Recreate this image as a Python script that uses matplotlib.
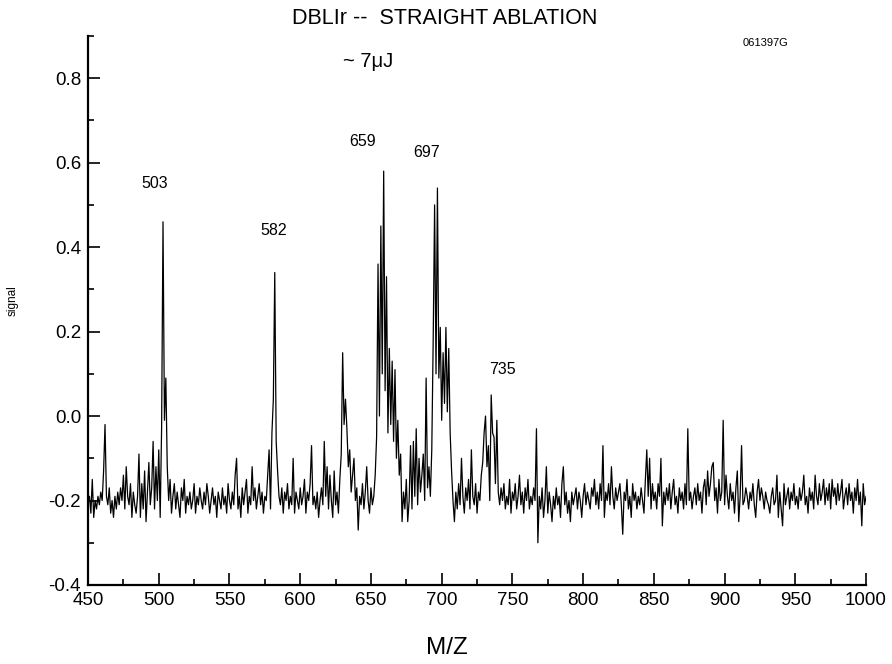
import numpy as np
import matplotlib
matplotlib.use("Agg")
import matplotlib.pyplot as plt
from matplotlib.ticker import MultipleLocator

plt.rcParams['font.family'] = ['Liberation Sans', 'DejaVu Sans']

mz_start = 450
mz_step = 1

sig_450 = [-0.20, -0.19, -0.23, -0.15, -0.24, -0.20, -0.22, -0.19, -0.21, -0.18,
           -0.20, -0.13, -0.02, -0.19, -0.21, -0.17, -0.23, -0.20, -0.24, -0.19,
           -0.22, -0.18, -0.21, -0.17, -0.20, -0.14, -0.22, -0.12, -0.19, -0.21,
           -0.16, -0.24, -0.18, -0.21, -0.23, -0.19, -0.09, -0.24, -0.16, -0.22,
           -0.13, -0.25, -0.18, -0.11, -0.21, -0.17, -0.06, -0.22, -0.12, -0.20]
sig_500 = [-0.08, -0.24, -0.03, 0.46, -0.01, 0.09, -0.12, -0.20, -0.15, -0.23,
           -0.19, -0.16, -0.22, -0.18, -0.21, -0.24, -0.17, -0.20, -0.15, -0.23,
           -0.19, -0.21, -0.18, -0.22, -0.20, -0.16, -0.23, -0.19, -0.21, -0.17,
           -0.20, -0.22, -0.18, -0.21, -0.16, -0.19, -0.23, -0.20, -0.17, -0.21,
           -0.19, -0.24, -0.18, -0.20, -0.22, -0.17, -0.21, -0.19, -0.23, -0.16]
sig_550 = [-0.20, -0.22, -0.18, -0.21, -0.14, -0.10, -0.22, -0.19, -0.24, -0.17,
           -0.21, -0.18, -0.15, -0.23, -0.19, -0.21, -0.12, -0.20, -0.17, -0.22,
           -0.19, -0.16, -0.21, -0.18, -0.23, -0.19, -0.20, -0.14, -0.08, -0.22,
           -0.04, 0.04, 0.34, -0.06, -0.13, -0.19, -0.21, -0.17, -0.23, -0.18,
           -0.20, -0.16, -0.22, -0.19, -0.21, -0.10, -0.23, -0.18, -0.20, -0.22]
sig_600 = [-0.17, -0.21, -0.19, -0.15, -0.23, -0.18, -0.20, -0.16, -0.07, -0.21,
           -0.19, -0.22, -0.18, -0.24, -0.20, -0.17, -0.21, -0.06, -0.19, -0.12,
           -0.22, -0.14, -0.20, -0.24, -0.13, -0.21, -0.18, -0.23, -0.15, -0.09,
           0.15, -0.02, 0.04, -0.03, -0.12, -0.08, -0.18, -0.14, -0.10, -0.20,
           -0.17, -0.27, -0.19, -0.21, -0.16, -0.22, -0.18, -0.12, -0.20, -0.23]
sig_650 = [-0.17, -0.21, -0.19, -0.14, -0.05, 0.36, 0.00, 0.45, 0.10, 0.58,
           0.06, 0.33, -0.04, 0.16, -0.02, 0.13, -0.06, 0.11, -0.10, -0.01,
           -0.14, -0.09, -0.25, -0.18, -0.22, -0.15, -0.25, -0.20, -0.07, -0.22,
           -0.06, -0.19, -0.03, -0.21, -0.10, -0.18, -0.14, -0.09, -0.20, 0.09,
           -0.17, -0.12, -0.19, -0.08, 0.18, 0.50, 0.10, 0.54, 0.09, 0.21]
sig_700 = [-0.01, 0.15, 0.03, 0.21, 0.01, 0.16, -0.04, -0.13, -0.20, -0.25,
           -0.18, -0.22, -0.16, -0.21, -0.10, -0.19, -0.23, -0.17, -0.20, -0.15,
           -0.22, -0.08, -0.19, -0.21, -0.16, -0.23, -0.18, -0.20, -0.14, -0.11,
           -0.04, 0.00, -0.12, -0.07, -0.20, 0.05, -0.04, -0.05, -0.16, -0.01,
           -0.18, -0.21, -0.17, -0.20, -0.16, -0.22, -0.19, -0.21, -0.15, -0.23]
sig_750 = [-0.18, -0.20, -0.16, -0.22, -0.19, -0.14, -0.21, -0.18, -0.23, -0.17,
           -0.20, -0.15, -0.22, -0.19, -0.21, -0.17, -0.20, -0.03, -0.30, -0.19,
           -0.22, -0.17, -0.24, -0.20, -0.12, -0.23, -0.18, -0.21, -0.25, -0.19,
           -0.22, -0.17, -0.21, -0.19, -0.24, -0.16, -0.12, -0.21, -0.18, -0.23,
           -0.20, -0.25, -0.18, -0.21, -0.19, -0.17, -0.22, -0.18, -0.20, -0.24]
sig_800 = [-0.19, -0.16, -0.21, -0.18, -0.20, -0.22, -0.17, -0.19, -0.15, -0.21,
           -0.18, -0.22, -0.16, -0.20, -0.07, -0.24, -0.18, -0.20, -0.16, -0.21,
           -0.12, -0.19, -0.22, -0.17, -0.20, -0.18, -0.16, -0.21, -0.28, -0.18,
           -0.20, -0.15, -0.22, -0.19, -0.24, -0.16, -0.20, -0.18, -0.22, -0.19,
           -0.21, -0.17, -0.20, -0.23, -0.15, -0.08, -0.19, -0.10, -0.22, -0.16]
sig_850 = [-0.20, -0.18, -0.22, -0.16, -0.19, -0.10, -0.26, -0.18, -0.21, -0.17,
           -0.20, -0.16, -0.22, -0.18, -0.15, -0.21, -0.19, -0.23, -0.17, -0.20,
           -0.18, -0.22, -0.16, -0.21, -0.03, -0.20, -0.18, -0.22, -0.19, -0.17,
           -0.21, -0.16, -0.20, -0.18, -0.23, -0.17, -0.15, -0.21, -0.13, -0.19,
           -0.16, -0.12, -0.11, -0.20, -0.17, -0.23, -0.15, -0.20, -0.18, -0.01]
sig_900 = [-0.21, -0.14, -0.19, -0.22, -0.16, -0.20, -0.18, -0.23, -0.17, -0.13,
           -0.25, -0.19, -0.07, -0.21, -0.20, -0.17, -0.19, -0.22, -0.18, -0.20,
           -0.16, -0.21, -0.24, -0.18, -0.15, -0.20, -0.17, -0.19, -0.22, -0.18,
           -0.20, -0.21, -0.23, -0.19, -0.17, -0.21, -0.20, -0.14, -0.24, -0.18,
           -0.22, -0.26, -0.16, -0.21, -0.19, -0.17, -0.22, -0.18, -0.20, -0.16]
sig_950 = [-0.21, -0.19, -0.22, -0.17, -0.20, -0.18, -0.14, -0.21, -0.19, -0.23,
           -0.17, -0.20, -0.18, -0.22, -0.14, -0.19, -0.21, -0.16, -0.20, -0.18,
           -0.15, -0.21, -0.17, -0.20, -0.16, -0.22, -0.15, -0.19, -0.17, -0.21,
           -0.16, -0.20, -0.18, -0.15, -0.22, -0.19, -0.17, -0.21, -0.16, -0.20,
           -0.18, -0.23, -0.17, -0.20, -0.15, -0.21, -0.18, -0.26, -0.16, -0.21,
           -0.19]

peak_labels = ["503", "582", "659", "697", "735"]
peak_label_x = [497, 581, 644, 689.5, 743]
peak_label_y = [0.55, 0.44, 0.65, 0.625, 0.11]

signal = np.array(sig_450 + sig_500 + sig_550 + sig_600 + sig_650 + sig_700
                  + sig_750 + sig_800 + sig_850 + sig_900 + sig_950)
mz = mz_start + mz_step * np.arange(len(signal))

fig = plt.figure(figsize=(8.92, 6.64), dpi=100)
ax = fig.add_axes([0.0987, 0.119, 0.8722, 0.8268])
ax.plot(mz, signal, color='black', linewidth=0.9)

ax.set_xlim(450, 1000)
ax.set_ylim(-0.4, 0.9)
ax.xaxis.set_major_locator(MultipleLocator(50))
ax.xaxis.set_minor_locator(MultipleLocator(25))
ax.yaxis.set_minor_locator(MultipleLocator(0.1))
ax.set_yticks([-0.4, -0.2, 0.0, 0.2, 0.4, 0.6, 0.8])
ax.set_yticklabels(['-0.4', '-0.2', '0.0', '0.2', '0.4', '0.6', '0.8'])
ax.tick_params(which='major', direction='in', length=8.5, width=1.2,
               labelsize=13.5, pad=5)
ax.tick_params(which='minor', direction='in', length=4.3, width=1.2)
for s in ['top', 'right']:
    ax.spines[s].set_visible(False)
for s in ['left', 'bottom']:
    ax.spines[s].set_linewidth(1.6)

for lab, lx, ly in zip(peak_labels, peak_label_x, peak_label_y):
    ax.text(lx, ly, lab, fontsize=11.5, ha='center', va='center')

fig.text(0.499, 0.972, "DBLIr --  STRAIGHT ABLATION", fontsize=15.5,
         ha='center', va='center')
fig.text(0.413, 0.907, "~ 7\u03bcJ", fontsize=14.5, ha='center', va='center')
fig.text(0.858, 0.935, "061397G", fontsize=8, ha='center', va='center')
fig.text(0.0146, 0.548, "signal", fontsize=8.5, rotation=90,
         ha='center', va='center')
fig.text(0.501, 0.024, "M/Z", fontsize=17.5, ha='center', va='center')

fig.savefig("out.png", dpi=100)
